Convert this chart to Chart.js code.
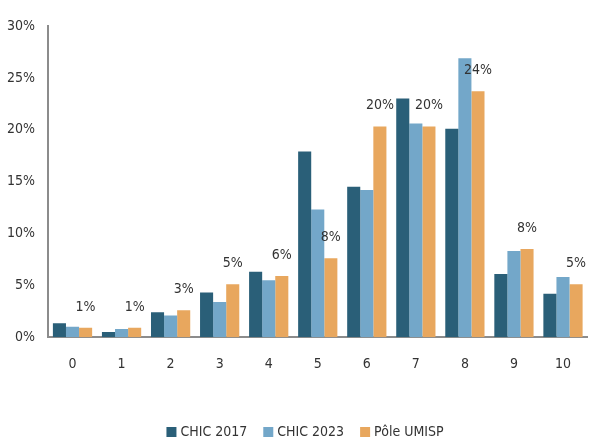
<!DOCTYPE html>
<html>
<head>
<meta charset="utf-8">
<script src="https://cdn.jsdelivr.net/npm/chart.js@4"></script>
<style>
  html, body { margin: 0; padding: 0; background: #fff; }
  #wrap { width: 590px; height: 442px; }
</style>
</head>
<body>
<div id="wrap"><canvas id="chart"></canvas></div>
<script>
// Data
const categories = ['0', '1', '2', '3', '4', '5', '6', '7', '8', '9', '10'];
const chic2017 = [1.35, 0.5, 2.4, 4.3, 6.3, 17.9, 14.5, 23.0, 20.1, 6.1, 4.2];
const chic2023 = [1.0, 0.8, 2.1, 3.4, 5.5, 12.3, 14.2, 20.6, 26.9, 8.3, 5.8];
const poleUmisp = [0.9, 0.9, 2.6, 5.1, 5.9, 7.6, 20.3, 20.3, 23.7, 8.5, 5.1];
const umispLabels = ['1%', '1%', '3%', '5%', '6%', '8%', '20%', '20%', '24%', '8%', '5%'];
const yTicks = [0, 5, 10, 15, 20, 25, 30];

const FONT = "'Liberation Sans Narrow', 'DejaVu Sans Condensed', 'Liberation Sans', sans-serif";

// Labels above the Pôle UMISP bars
const barLabels = {
    id: 'barLabels',
    afterDatasetsDraw(chart) {
        const ctx = chart.ctx;
        const meta = chart.getDatasetMeta(2);
        ctx.save();
        ctx.font = '14px ' + FONT;
        ctx.fillStyle = '#333';
        ctx.textAlign = 'center';
        ctx.textBaseline = 'middle';
        meta.data.forEach((bar, i) => {
            ctx.fillText(umispLabels[i], bar.x, bar.y - 21);
        });
        ctx.restore();
    }
};

// Compact legend at the bottom (tight box/text spacing)
const bottomLegend = {
    id: 'bottomLegend',
    afterDraw(chart) {
        const ctx = chart.ctx;
        const sets = chart.data.datasets;
        const box = 10, gap = 4, itemGap = 16, y = 432;
        ctx.save();
        ctx.font = '14px ' + FONT;
        ctx.textBaseline = 'middle';
        ctx.textAlign = 'left';
        const widths = sets.map(ds => box + gap + ctx.measureText(ds.label).width);
        const total = widths.reduce((a, b) => a + b, 0) + itemGap * (sets.length - 1);
        let x = 305 - total / 2;
        sets.forEach((ds, i) => {
            ctx.fillStyle = ds.backgroundColor;
            ctx.fillRect(x, y - box / 2, box, box);
            ctx.fillStyle = '#333';
            ctx.fillText(ds.label, x + box + gap, y);
            x += widths[i] + itemGap;
        });
        ctx.restore();
    }
};

const ctx = document.getElementById('chart').getContext('2d');
new Chart(ctx, {
    type: 'bar',
    data: {
        labels: categories,
        datasets: [{
            label: 'CHIC 2017',
            data: chic2017,
            backgroundColor: '#2a5f78'
        }, {
            label: 'CHIC 2023',
            data: chic2023,
            backgroundColor: '#73a7c9'
        }, {
            label: 'Pôle UMISP',
            data: poleUmisp,
            backgroundColor: '#e8a75e'
        }]
    },
    options: {
        responsive: true,
        maintainAspectRatio: false,
        animation: false,
        categoryPercentage: 0.8,
        barPercentage: 1.0,
        layout: {
            padding: { top: 26, right: 0, left: -6, bottom: 50 }
        },
        plugins: {
            legend: { display: false },
            tooltip: { enabled: false }
        },
        scales: {
            y: {
                min: 0,
                max: 30,
                afterBuildTicks: axis => {
                    axis.ticks = yTicks.map(v => ({ value: v }));
                },
                grid: { display: false, drawTicks: false },
                border: { display: true, color: '#8c8c8c', width: 2 },
                ticks: {
                    padding: 13,
                    color: '#333',
                    font: { family: FONT, size: 14 },
                    callback: v => v + '%'
                }
            },
            x: {
                grid: { display: false, drawTicks: false },
                border: { display: true, color: '#8c8c8c', width: 2 },
                ticks: {
                    padding: 19,
                    color: '#333',
                    font: { family: FONT, size: 14 }
                }
            }
        }
    },
    plugins: [barLabels, bottomLegend]
});
</script>
</body>
</html>
